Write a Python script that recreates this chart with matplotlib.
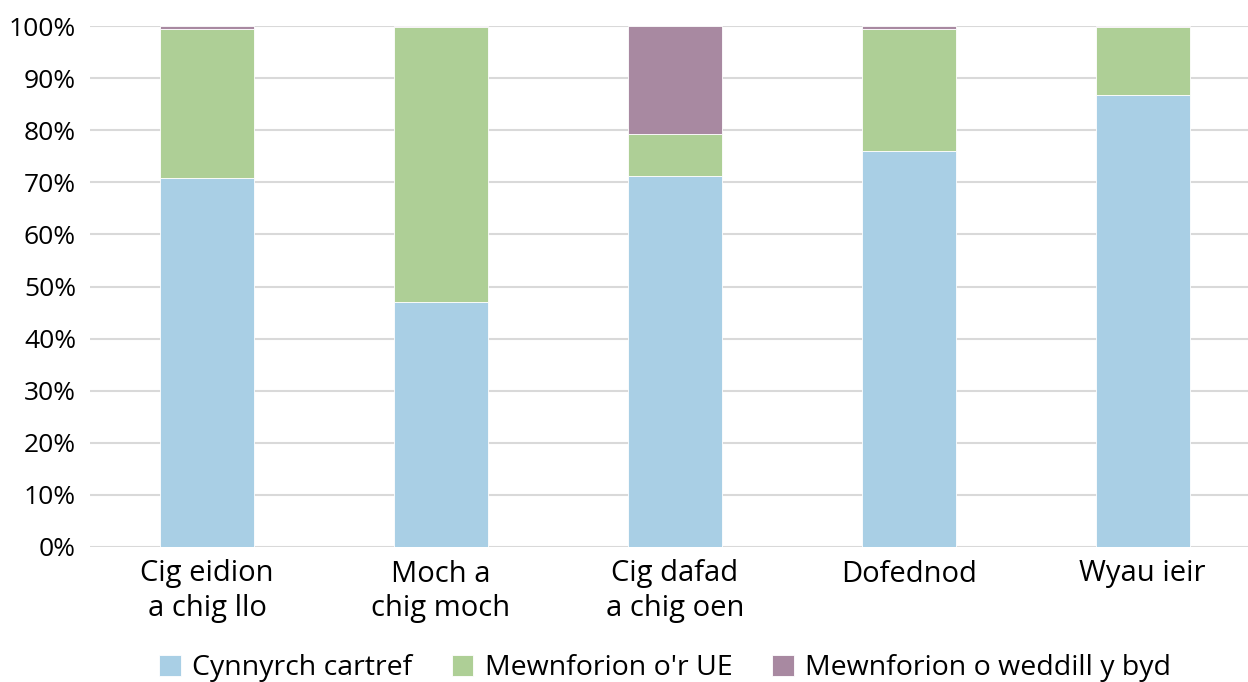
import matplotlib
matplotlib.use("Agg")
import matplotlib.pyplot as plt
import numpy as np

categories = ["Cig eidion\na chig llo", "Moch a\nchig moch", "Cig dafad\na chig oen", "Dofednod", "Wyau ieir"]
series_names = ["Cynnyrch cartref", "Mewnforion o'r UE", "Mewnforion o weddill y byd"]
domestic = [70.8, 47.0, 71.3, 76.0, 86.8]
eu = [28.6, 52.8, 8.0, 23.4, 13.0]
rest_world = [0.6, 0.2, 20.7, 0.6, 0.2]
yticks = [0, 10, 20, 30, 40, 50, 60, 70, 80, 90, 100]
colors = ["#a9cfe5", "#aecf96", "#a889a1"]

plt.rcParams['font.family'] = ['Open Sans', 'DejaVu Sans']

fig = plt.figure(figsize=(12.48, 6.82), dpi=100)
ax = fig.add_axes([90/1248, 1-547/682, 1-90/1248, (547-26)/682])

x = np.arange(len(categories))
w = 0.40
bottom = np.zeros(len(categories))
for vals, name, c in zip([domestic, eu, rest_world], series_names, colors):
    ax.bar(x, vals, w, bottom=bottom, color=c, label=name, edgecolor='white', linewidth=0.6, zorder=3)
    bottom += np.array(vals)

ax.set_ylim(0, 100)
ax.set_xlim(-0.5, 4.45)
ax.set_yticks(yticks)
ax.set_yticklabels([f"{v}%" for v in yticks], fontsize=19)
ax.set_xticks(x)
ax.set_xticklabels(categories, fontsize=21, linespacing=1.25)
ax.yaxis.grid(True, color="#d9d9d9", linewidth=1.5, zorder=0)
for s in ax.spines.values():
    s.set_visible(False)
ax.tick_params(axis='both', length=0)
ax.tick_params(axis='y', pad=10)
ax.tick_params(axis='x', pad=9)

leg = fig.legend(loc='lower center', bbox_to_anchor=(0.533, -0.038), ncol=3, frameon=False,
                 fontsize=20.5, handlelength=0.75, handleheight=0.75, handletextpad=0.4, columnspacing=1.4)

fig.savefig("out.png", dpi=100)
